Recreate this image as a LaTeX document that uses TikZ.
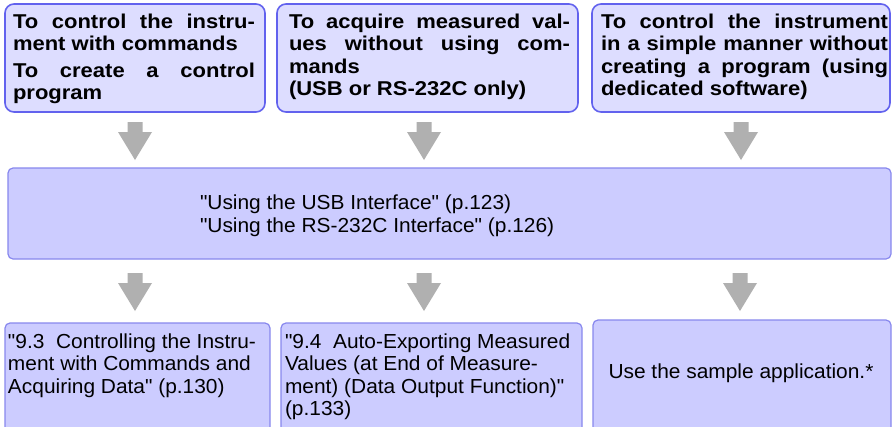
\documentclass[tikz,border=0pt]{standalone}
\usepackage{fontspec}
\newfontfamily\arialbold{Liberation Sans}[FakeStretch=1.1]
\newfontfamily\arial{Liberation Sans}[FakeStretch=1.03]
\definecolor{topfill}{HTML}{DDDDFF}
\definecolor{topdraw}{HTML}{6262EE}
\definecolor{midfill}{HTML}{CCCCFF}
\definecolor{middraw}{HTML}{8888EE}
\definecolor{arrowgray}{HTML}{B0B0B0}
\tikzset{
  topbox/.style={draw=topdraw, fill=topfill, line width=1.6pt, rounded corners=9pt},
  midbox/.style={draw=middraw, fill=midfill, line width=1.2pt, rounded corners=5pt},
  txt/.style={anchor=base west, inner sep=0pt, outer sep=0pt},
  blockarrow/.style={fill=arrowgray, draw=none},
}
\newcommand{\toptext}{\arialbold\fontsize{20}{22.5}\selectfont\bfseries}
\newcommand{\plaintext}{\arial\fontsize{20.3}{22.5}\selectfont}
\newcommand{\jline}[1]{\makebox[\linewidth][s]{#1}}
\newcommand{\mkarrow}[1]{%
  \fill[blockarrow] ([xshift=-7.5pt]#1) -- ([xshift=7.5pt]#1) -- ([xshift=7.5pt,yshift=-10pt]#1)
   -- ([xshift=17pt,yshift=-10pt]#1) -- ([yshift=-38pt]#1) -- ([xshift=-17pt,yshift=-10pt]#1)
   -- ([xshift=-7.5pt,yshift=-10pt]#1) -- cycle;}
\begin{document}
\begin{tikzpicture}[x=1pt,y=-1pt]
\clip (0,0) rectangle (892,426);
\fill[white] (0,0) rectangle (892,426);
% top boxes
\draw[topbox] (5,4) rectangle (265,112);
\draw[topbox] (277,4) rectangle (578,112);
\draw[topbox] (592,4) rectangle (890,112);
\node[txt] (t1) at (13,28) {\parbox[t]{242pt}{\toptext\baselineskip=22pt
  \jline{To control the instru-}\\
  ment with commands\par\vspace{5pt}
  \jline{To create a control}\\
  program}};
\node[txt] (t2) at (289,28) {\parbox[t]{281pt}{\toptext
  \jline{To acquire measured val-}\\
  \jline{ues without using com-}\\
  mands\\
  (USB or RS-232C only)}};
\node[txt] (t3) at (601,28) {\parbox[t]{287pt}{\toptext
  \jline{To control the instrument}\\
  \jline{in a simple manner without}\\
  \jline{creating a program (using}\\
  dedicated software)}};
% arrows top
\coordinate (a1) at (135,122);
\coordinate (a2) at (424,122);
\coordinate (a3) at (741,122);
\mkarrow{a1}\mkarrow{a2}\mkarrow{a3}
% middle box
\draw[midbox] (8,168) rectangle (891,259);
\node[txt] (m) at (200,209) {\parbox[t]{500pt}{\plaintext\baselineskip=23.5pt
  "Using the USB Interface" (p.123)\\
  "Using the RS-232C Interface" (p.126)}};
% arrows bottom
\coordinate (b1) at (135,273);
\coordinate (b2) at (424,273);
\coordinate (b3) at (740,273);
\mkarrow{b1}\mkarrow{b2}\mkarrow{b3}
% bottom boxes
\draw[midbox] (5,323) rectangle (270,445);
\draw[midbox] (281,323) rectangle (582,445);
\draw[midbox] (593,320) rectangle (891,445);
\node[txt] (c1) at (8,348) {\parbox[t]{262pt}{\plaintext\raggedright
  "9.3~~Controlling the Instru-\\
  ment with Commands and\\
  Acquiring Data" (p.130)}};
\node[txt] (c2) at (285,348) {\parbox[t]{300pt}{\plaintext\raggedright
  "9.4~~Auto-Exporting Measured\\
  Values (at End of Measure-\\
  ment) (Data Output Function)"\\
  (p.133)}};
\node[txt, anchor=base] (c3) at (741,378) {\plaintext Use the sample application.*};
\end{tikzpicture}
\end{document}
